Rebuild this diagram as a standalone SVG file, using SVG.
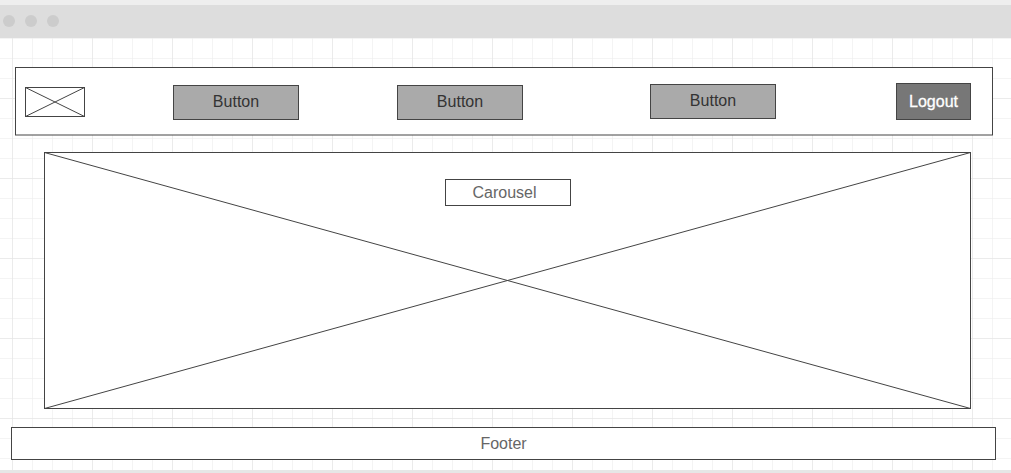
<svg xmlns="http://www.w3.org/2000/svg" width="1011" height="473" viewBox="0 0 1011 473">
<defs>
<pattern id="grid" x="12" y="18" width="20" height="20" patternUnits="userSpaceOnUse">
<path d="M0 0H20M0 0V20" fill="none" stroke="#eaeaea" stroke-width="1"/>
</pattern>
<pattern id="gridmaj" x="12" y="18" width="80" height="80" patternUnits="userSpaceOnUse">
<path d="M0 0H80M0 0V80" fill="none" stroke="#e2e2e2" stroke-width="1"/>
</pattern>
</defs>
<style>
.box{fill:#fff;stroke:#444;stroke-width:1}
.btn{fill:#aaaaaa;stroke:#444;stroke-width:1}
.btntxt{font-family:"Liberation Sans",Arial,sans-serif;font-size:16px;fill:#333;text-anchor:middle}
.lbl{font-family:"Liberation Sans",Arial,sans-serif;font-size:16px;fill:#666;text-anchor:middle}
.x{stroke:#444;stroke-width:1;fill:none}
</style>
<rect width="1011" height="473" fill="#fff"/>
<rect x="0" y="38" width="1011" height="432" fill="url(#grid)"/>
<rect x="0" y="38" width="1011" height="432" fill="url(#gridmaj)"/>
<rect x="0" y="0" width="1011" height="5" fill="#eeeeee"/>
<rect x="0" y="5" width="1011" height="33" fill="#dddddd"/>
<rect x="0" y="470" width="1011" height="3" fill="#e6e6e6"/>
<g id="window-dots" fill="#cccccc">
<circle cx="9" cy="21" r="6"/>
<circle cx="31" cy="21" r="6"/>
<circle cx="53" cy="21" r="6"/>
</g>
<g id="header">
<rect class="box" x="15.5" y="67.5" width="977" height="67.5"/>
</g>
<g id="logo">
<rect class="box" x="25.5" y="87.5" width="59" height="29"/>
<path class="x" d="M25.5 87.5L84.5 116.5M84.5 87.5L25.5 116.5"/>
</g>
<g id="button1">
<rect class="btn" x="173.5" y="85.5" width="125" height="34"/>
<text class="btntxt" x="236" y="107">Button</text>
</g>
<g id="button2">
<rect class="btn" x="397.5" y="85.5" width="125" height="34"/>
<text class="btntxt" x="460" y="107">Button</text>
</g>
<g id="button3">
<rect class="btn" x="650.5" y="84.5" width="125" height="34"/>
<text class="btntxt" x="713" y="106">Button</text>
</g>
<g id="logout">
<rect x="896.5" y="83.5" width="74" height="36" fill="#777777" stroke="#444"/>
<text x="933.5" y="107" font-family="Liberation Sans,Arial,sans-serif" font-size="16" fill="#fff" stroke="#fff" stroke-width="0.3" text-anchor="middle">Logout</text>
</g>
<g id="carousel">
<rect class="box" x="44.5" y="152.5" width="926" height="256"/>
<path class="x" d="M44.5 152.5L970.5 408.5M970.5 152.5L44.5 408.5"/>
</g>
<g id="carousel-label">
<rect class="box" x="445.5" y="179.5" width="125" height="26"/>
<text class="lbl" x="504.5" y="198">Carousel</text>
</g>
<g id="footer">
<rect class="box" x="11.5" y="427.5" width="984" height="32"/>
<text class="lbl" x="503.5" y="449">Footer</text>
</g>
<g id="connectors"/>
</svg>
